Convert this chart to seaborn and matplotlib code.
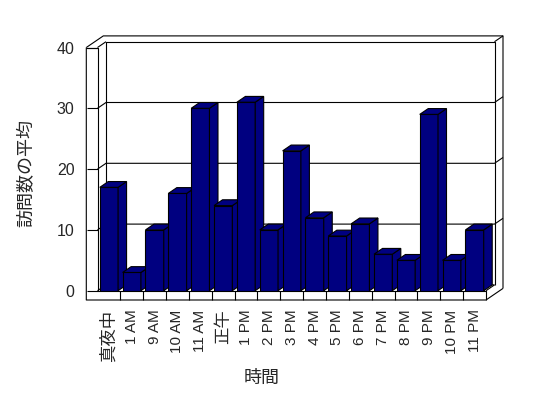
import matplotlib
matplotlib.use("Agg")
import matplotlib.pyplot as plt
from matplotlib.lines import Line2D
from matplotlib.patches import Polygon
import seaborn as sns
import pandas as pd

categories = ["真夜中", "1 AM", "9 AM", "10 AM", "11 AM", "正午", "1 PM", "2 PM",
              "3 PM", "4 PM", "5 PM", "6 PM", "7 PM", "8 PM", "9 PM", "10 PM", "11 PM"]
values = [17, 3, 10, 16, 30, 14, 31, 10, 23, 12, 9, 11, 6, 5, 29, 5, 10]
y_ticks = [0, 10, 20, 30, 40]
y_label = "訪問数の平均"
x_label = "時間"

sns.set_style("white")
plt.rcParams["font.family"] = ["Liberation Sans", "Noto Sans CJK JP", "DejaVu Sans"]

W, H = 548, 398
fig = plt.figure(figsize=(W / 100, H / 100), dpi=100)
# front plane of the 3D box
fx0, fx1, fy0, fy1 = 97.5, 486.0, 290.7, 47.5
ax = fig.add_axes([fx0 / W, (H - fy0) / H, (fx1 - fx0) / W, (fy0 - fy1) / H])

df = pd.DataFrame({"cat": categories, "val": values})
sns.barplot(data=df, x="cat", y="val", color="#000080", saturation=1, width=0.8,
            edgecolor="black", linewidth=0.8, ax=ax)

ax.set_xlim(-0.5, len(categories) - 0.5)
ax.set_ylim(0, 40)
for s in ax.spines.values():
    s.set_visible(False)
ax.set_xlabel("")
ax.set_ylabel("")
ax.set_yticks(y_ticks)
ax.set_yticklabels([str(t) for t in y_ticks], fontsize=11.5)
ax.tick_params(axis="y", direction="out", length=8.06, width=0.8, color="black", pad=8.4, left=True)
ax.set_xticks(range(len(categories)))
ax.set_xticklabels(categories, rotation=90, va="top", ha="center")
for lab in ax.get_xticklabels():
    t = lab.get_text()
    lab.set_fontsize(12.5 if any(ord(c) > 0x3000 for c in t) else 11)
ax.tick_params(axis="x", length=0, pad=13.5)

# 3D decoration
DX, DY = 8.5, 5.8      # depth offset (pixels)
LW, FT = 11.2, 9.3     # wall and floor thickness (pixels)

def P(x, y, ox=0.0, oy=0.0):
    d = ax.transData.transform((x, y))
    return ((d[0] + ox) / W, (d[1] + oy) / H)

def line(pts, z=1):
    xs = [p[0] for p in pts]
    ys = [p[1] for p in pts]
    ax.add_line(Line2D(xs, ys, transform=fig.transFigure, color="black",
                       lw=0.8, clip_on=False, zorder=z, solid_capstyle="butt"))

X0, X1 = ax.get_xlim()
Y0, Y1 = ax.get_ylim()

# back wall
line([P(X0, Y0, DX, DY), P(X0, Y1, DX, DY), P(X1, Y1, DX, DY), P(X1, Y0, DX, DY)])
for v in y_ticks[1:-1]:
    line([P(X0, v), P(X0, v, DX, DY), P(X1, v, DX, DY), P(X1, v, 2 * DX, 2 * DY)])
line([P(X0, Y0), P(X0, Y0, DX, DY), P(X1, Y0, DX, DY)])
# outer back edges
line([P(X0, Y1, -LW), P(X0, Y1, -LW + 2 * DX, 2 * DY), P(X1, Y1, 2 * DX, 2 * DY),
      P(X1, Y0, 2 * DX, -FT + 2 * DY)])
line([P(X1, Y1, DX, DY), P(X1, Y1, 2 * DX, 2 * DY)])
# left wall
line([P(X0, Y1, -LW), P(X0, Y0, -LW, -FT), P(X1, Y0, 0, -FT), P(X1, Y0, 2 * DX, -FT + 2 * DY)])
line([P(X0, Y1, -LW), P(X0, Y1), P(X0, Y0), P(X1, Y0), P(X1, Y0, 0, -FT)])
line([P(X0, Y1), P(X0, Y1, DX, DY)])
line([P(X1, Y0), P(X1, Y0, DX, DY)])
# floor dividers
for k in range(len(categories) - 1):
    line([P(k + 0.5, Y0), P(k + 0.5, Y0, 0, -FT)])

# 3D faces of the bars
for i, p in enumerate(ax.patches):
    x0 = p.get_x()
    x1 = x0 + p.get_width()
    h = p.get_height()
    p.set_zorder(10 + 2 * i)
    side = [P(x1, 0), P(x1, h), P(x1, h, DX, DY), P(x1, 0, DX, DY)]
    top = [P(x0, h), P(x1, h), P(x1, h, DX, DY), P(x0, h, DX, DY)]
    for poly in (side, top):
        ax.add_patch(Polygon(poly, closed=True, transform=fig.transFigure,
                             facecolor="#000080", edgecolor="black", lw=0.8,
                             clip_on=False, zorder=11 + 2 * i))

fig.text(27 / W, 1 - 173 / H, y_label, rotation=90, ha="center", va="center", fontsize=13)
fig.text(262 / W, 1 - 378 / H, x_label, ha="center", va="center", fontsize=13)

fig.savefig("out.png", dpi=100)
